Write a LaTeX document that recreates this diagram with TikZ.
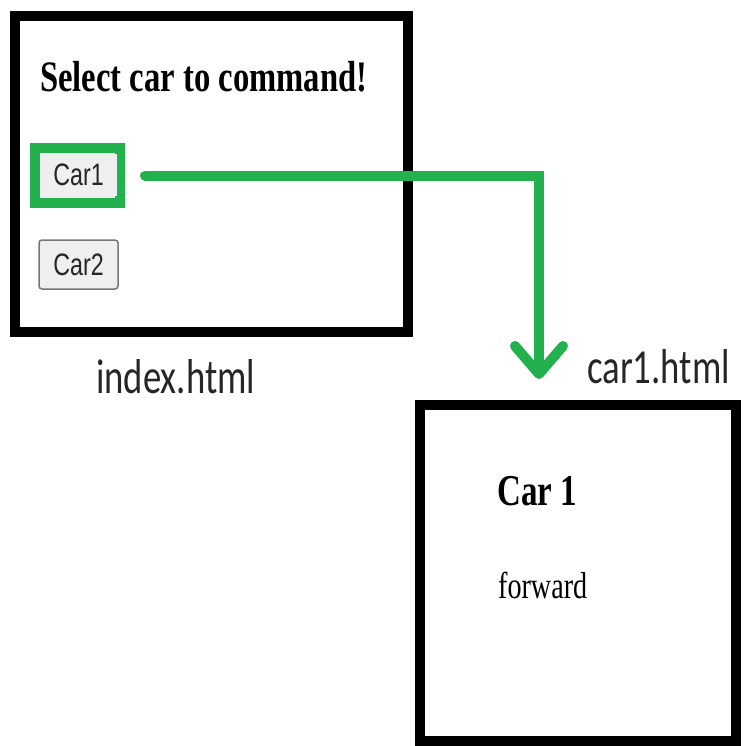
\documentclass[tikz,border=0pt]{standalone}
\usepackage{xcolor}
\usepackage{fontspec}
\setmainfont{Liberation Serif}[FakeStretch=0.75]
\newfontfamily\btnfont{Liberation Sans}[FakeStretch=0.75]
\newfontfamily\namefont{Carlito}[FakeStretch=0.75]
\usepackage{tikz}
\usetikzlibrary{arrows.meta, positioning}
\definecolor{paintgreen}{HTML}{22B14C}
\definecolor{btnfill}{HTML}{EFEFEF}
\definecolor{btnedge}{HTML}{767676}

\begin{document}
\begin{tikzpicture}[
    x=1pt, y=-1pt,
    win/.style    = {rectangle, draw=black, line width=10pt, fill=white, inner sep=0pt},
    btn/.style    = {rectangle, draw=btnedge, line width=1.5pt, fill=btnfill,
                     minimum width=77pt, minimum height=45pt, inner sep=0pt,
                     font=\btnfont\fontsize{31}{34}\selectfont, text=black!85},
    hilite/.style = {rectangle, draw=paintgreen, line width=10pt,
                     minimum width=85pt, minimum height=55pt, inner sep=0pt},
    txt/.style    = {anchor=base west, inner sep=0pt},
    fname/.style  = {txt, font=\namefont\fontsize{49}{54}\selectfont, text=black!85},
    link/.style   = {draw=paintgreen, line width=10pt, line cap=round,
                     -{Straight Barb[length=28pt, width=48pt, round]}}
  ]
  \useasboundingbox (0,0) rectangle (747,745);

  % Pages
  \node[win, minimum width=393pt, minimum height=316pt] (index) at (211.5,174) {};
  \node[win, minimum width=316.5pt, minimum height=336.5pt] (carpage) at (578,572.75) {};

  % index.html content
  \node[txt, font=\fontsize{43.5}{48}\selectfont\bfseries] (title) at (40,91) {Select car to command!};
  \node[hilite, fill=btnfill] (frame) at (77.5,175.5) {};
  \node[btn, draw=none, minimum height=42pt] (car1btn) at (78.5,175) {Car1};
  \node[btn, rounded corners=3pt, minimum height=49pt, minimum width=79pt] (car2btn) at (78.5,264.5) {Car2};

  % car1.html content
  \node[txt, font=\fontsize{44}{48}\selectfont\bfseries] (heading) at (497,505) {Car 1};
  \node[txt, font=\fontsize{37.5}{42}\selectfont] (fwd) at (498,598) {forward};

  % File names
  \node[fname] (indexname) at (96,393) {index.html};
  \node[fname] (carname) at (587,383) {car1.html};

  % Link
  \coordinate (drop) at (539,379);
  \draw[link] ([xshift=20pt]frame.east) -| (drop);
\end{tikzpicture}
\end{document}
